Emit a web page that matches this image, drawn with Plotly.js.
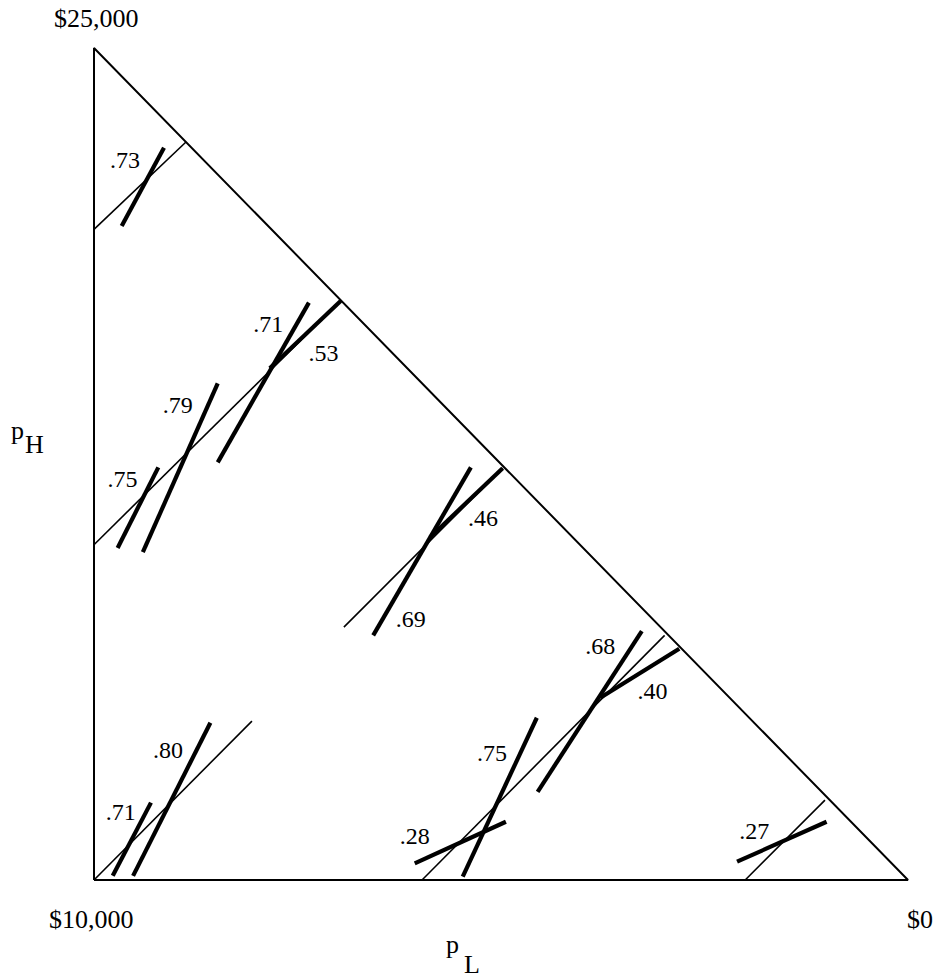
<!DOCTYPE html>
<html>
<head>
<meta charset="utf-8">
<script src="https://cdn.plot.ly/plotly-3.0.1.min.js"></script>
<style>
  html, body { margin: 0; padding: 0; background: #fff; }
  #chart { width: 943px; height: 980px; }
</style>
</head>
<body>
<div id="chart"></div>
<script>
// Probability triangle: x = p_L, y = p_H, vertices (0,0), (0,1), (1,0).
const triangleX = [0, 0, 1, 0];
const triangleY = [0, 1, 0, 0];

// Thin chords (common-ratio / expected-value lines)
const chordX0 = [0.000, 0.000, 0.307, 0.403, 0.000, 0.800];
const chordY0 = [0.782, 0.403, 0.304, 0.000, 0.000, 0.000];
const chordX1 = [0.113, 0.303, 0.502, 0.701, 0.194, 0.898];
const chordY1 = [0.887, 0.696, 0.495, 0.294, 0.191, 0.096];

// Thick segments with their labelled values
const segLabels = [".73", ".75", ".79", ".71", ".53", ".46", ".69", ".40", ".68", ".75", ".28", ".71", ".80", ".27"];
const segX0 = [0.034, 0.029, 0.060, 0.152, 0.216, 0.413, 0.343, 0.622, 0.545, 0.453, 0.394, 0.023, 0.048, 0.790];
const segY0 = [0.786, 0.399, 0.394, 0.502, 0.615, 0.412, 0.294, 0.219, 0.106, 0.004, 0.020, 0.005, 0.005, 0.022];
const segX1 = [0.086, 0.079, 0.152, 0.264, 0.303, 0.502, 0.463, 0.719, 0.673, 0.544, 0.506, 0.070, 0.143, 0.900];
const segY1 = [0.880, 0.496, 0.597, 0.694, 0.696, 0.495, 0.496, 0.278, 0.299, 0.195, 0.070, 0.093, 0.189, 0.070];

// Label anchor points for each thick segment
const labelX = [0.038, 0.035, 0.103, 0.214, 0.282, 0.478, 0.389, 0.686, 0.622, 0.489, 0.394, 0.033, 0.091, 0.811];
const labelY = [0.863, 0.479, 0.569, 0.666, 0.631, 0.433, 0.311, 0.225, 0.279, 0.150, 0.051, 0.079, 0.154, 0.056];

// Corner prize labels
const cornerText = ["$25,000", "$10,000", "$0"];

function joinSegments(x0, y0, x1, y1) {
  const xs = [], ys = [];
  for (let i = 0; i < x0.length; i++) {
    xs.push(x0[i], x1[i], null);
    ys.push(y0[i], y1[i], null);
  }
  return { xs, ys };
}

const chords = joinSegments(chordX0, chordY0, chordX1, chordY1);
const thick = joinSegments(segX0, segY0, segX1, segY1);

const FONT = "Liberation Serif, Times New Roman, serif";

const traces = [
  {
    x: triangleX, y: triangleY, mode: "lines", type: "scatter",
    line: { color: "#000", width: 2 }, hoverinfo: "skip"
  },
  {
    x: chords.xs, y: chords.ys, mode: "lines", type: "scatter",
    line: { color: "#000", width: 1.6 }, hoverinfo: "skip", connectgaps: false
  },
  {
    x: thick.xs, y: thick.ys, mode: "lines", type: "scatter",
    line: { color: "#000", width: 4.2 }, hoverinfo: "skip", connectgaps: false
  },
  {
    x: labelX, y: labelY, text: segLabels, mode: "text", type: "scatter",
    textposition: "middle center",
    textfont: { family: FONT, size: 24, color: "#000" }, hoverinfo: "skip"
  }
];

const textFont = { family: FONT, size: 26, color: "#000" };

const layout = {
  width: 943, height: 980,
  margin: { l: 0, r: 0, t: 0, b: 0 },
  paper_bgcolor: "#fff", plot_bgcolor: "#fff",
  showlegend: false,
  xaxis: { range: [-0.11548, 1.04300], visible: false, fixedrange: true },
  yaxis: { range: [-0.12019, 1.05769], visible: false, fixedrange: true },
  annotations: [
    { x: 0.0025, y: 1.036, text: cornerText[0], showarrow: false, font: textFont, xanchor: "center", yanchor: "middle" },
    { x: -0.0025, y: -0.047, text: cornerText[1], showarrow: false, font: textFont, xanchor: "center", yanchor: "middle" },
    { x: 1.015, y: -0.047, text: cornerText[2], showarrow: false, font: textFont, xanchor: "center", yanchor: "middle" },
    // p_H label
    { x: -0.094, y: 0.540, text: "p", showarrow: false, font: textFont, xanchor: "center", yanchor: "middle" },
    { x: -0.0725, y: 0.524, text: "H", showarrow: false, font: textFont, xanchor: "center", yanchor: "middle" },
    // p_L label
    { x: 0.440, y: -0.077, text: "p", showarrow: false, font: textFont, xanchor: "center", yanchor: "middle" },
    { x: 0.464, y: -0.101, text: "L", showarrow: false, font: textFont, xanchor: "center", yanchor: "middle" }
  ]
};

Plotly.newPlot("chart", traces, layout, { staticPlot: true, displayModeBar: false });
</script>
</body>
</html>
